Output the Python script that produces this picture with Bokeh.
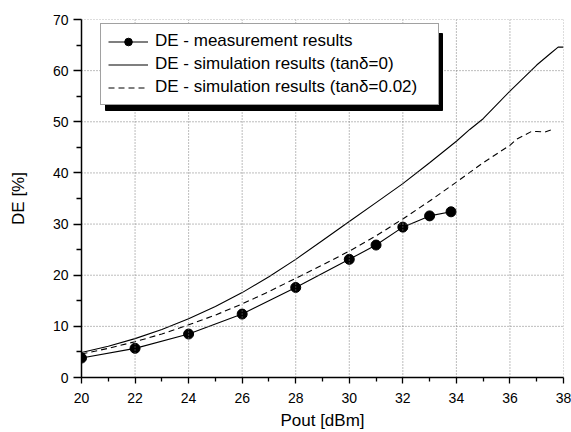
import math
from bokeh.plotting import figure
from bokeh.models import Range1d, FixedTicker, Legend, LegendItem
from bokeh.embed import file_html
from bokeh.resources import INLINE

# ---- data ----
meas_x = [20, 22, 24, 26, 28, 30, 31, 32, 33, 33.8]
meas_y = [3.8, 5.7, 8.5, 12.4, 17.6, 23.1, 25.9, 29.4, 31.6, 32.4]

sim0_x = [20, 21, 22, 23, 24, 25, 26, 27, 28, 29, 30, 31, 32, 33, 34, 34.5,
          35, 36, 36.75, 37, 37.5, 37.8, 38]
sim0_y = [4.9, 6.1, 7.6, 9.4, 11.5, 13.9, 16.6, 19.7, 23.1, 26.8, 30.5, 34.2,
          37.9, 42.0, 46.2, 48.5, 50.6, 56.0, 59.8, 61.1, 63.3, 64.6, 64.6]

sim2_x = [20, 21, 22, 23, 24, 25, 26, 27, 28, 29, 30, 31, 32, 33, 34, 35,
          36, 36.25, 36.8, 37.0, 37.3, 37.6]
sim2_y = [4.6, 5.7, 7.0, 8.5, 10.3, 12.2, 14.4, 16.8, 19.4, 22.0, 24.7, 27.7,
          31.0, 34.5, 38.2, 42.0, 45.4, 46.6, 48.1, 48.1, 48.0, 48.5]

x_ticks = [20, 22, 24, 26, 28, 30, 32, 34, 36, 38]
x_minor = [21, 23, 25, 27, 29, 31, 33, 35, 37]
y_ticks = [0, 10, 20, 30, 40, 50, 60, 70]
y_minor = [5, 15, 25, 35, 45, 55, 65]

FONT = "Liberation Sans"

W, H = 571, 432
BL, BR, BT, BB = 81, 8, 19, 55
FW, FH = W - BL - BR, H - BT - BB
X0, X1 = x_ticks[0], x_ticks[-1]
Y0, Y1 = y_ticks[0], y_ticks[-1]

p = figure(width=W, height=H, output_backend="svg", toolbar_location=None,
           x_range=Range1d(X0, X1), y_range=Range1d(Y0, Y1),
           min_border_left=BL, min_border_right=BR,
           min_border_top=BT, min_border_bottom=BB)
p.outline_line_alpha = 0

# axes
xt = FixedTicker(ticks=x_ticks, minor_ticks=x_minor)
yt = FixedTicker(ticks=y_ticks, minor_ticks=y_minor)
p.xaxis.ticker = xt
p.yaxis.ticker = yt
p.xgrid.visible = False
p.ygrid.visible = False

for ax in (p.xaxis[0], p.yaxis[0]):
    ax.axis_line_width = 1.5
    ax.axis_line_color = "black"
    ax.major_tick_line_color = "black"
    ax.minor_tick_line_color = "black"
    ax.major_tick_line_width = 1.3
    ax.minor_tick_line_width = 1.3
    ax.major_tick_in = 0
    ax.minor_tick_in = 0
    ax.major_label_text_font = FONT
    ax.major_label_text_font_size = "14px"
    ax.major_label_text_color = "black"
    ax.axis_label_text_font = FONT
    ax.axis_label_text_font_size = "17px"
    ax.axis_label_text_font_style = "normal"
    ax.axis_label_text_color = "black"
p.xaxis.major_tick_out = 6
p.xaxis.minor_tick_out = 4
p.yaxis.major_tick_out = 8
p.yaxis.minor_tick_out = 5
p.xaxis.major_label_standoff = 9
p.yaxis.major_label_standoff = 5
p.xaxis.axis_label = "Pout [dBm]"
p.yaxis.axis_label = "DE [%]"
p.xaxis.axis_label_standoff = 5
p.yaxis.axis_label_standoff = 22

# data
r_sim0 = p.line(sim0_x, sim0_y, line_color="black", line_width=1.1)
r_sim2 = p.line(sim2_x, sim2_y, line_color="black", line_width=1.1,
                line_dash="6 4")
r_meas_l = p.line(meas_x, meas_y, line_color="black", line_width=1.1)
r_meas_s = p.scatter(meas_x, meas_y, marker="circle", size=10,
                     fill_color="black", line_color="black")

# dotted grid at the major ticks, as NaN-separated line glyphs
gx_x, gx_y = [], []
for t in x_ticks:
    gx_x += [t, t, math.nan]
    gx_y += [Y0, Y1, math.nan]
gy_x, gy_y = [], []
for t in y_ticks:
    gy_x += [X0, X1, math.nan]
    gy_y += [t, t, math.nan]
p.line(gx_x, gx_y, line_color="#7a7a7a", line_width=1, line_dash="1 2")
p.line(gy_x, gy_y, line_color="#7a7a7a", line_width=1, line_dash="1 2")

# legend geometry (pixels)
pad, gw, gh, lstand, lw, sp = 7, 40, 19, 7, 276, 3
leg_w = 2 * pad + gw + lstand + lw
leg_h = 2 * pad + 3 * gh + 2 * sp
leg_left, leg_top = 19, 9   # offsets from frame's top-left
sx = FW / (X1 - X0)
sy = FH / (Y1 - Y0)
shadow_off = 5
# legend drop shadow (decoration)
p.quad(left=[X0 + (leg_left + shadow_off) / sx],
       right=[X0 + (leg_left + leg_w + shadow_off) / sx],
       top=[Y1 - (leg_top + shadow_off) / sy],
       bottom=[Y1 - (leg_top + leg_h + shadow_off) / sy],
       fill_color="black", line_color="black")

legend = Legend(items=[
    LegendItem(label="DE - measurement results", renderers=[r_meas_l, r_meas_s]),
    LegendItem(label="DE - simulation results (tan\u03b4=0)", renderers=[r_sim0]),
    LegendItem(label="DE - simulation results (tan\u03b4=0.02)", renderers=[r_sim2]),
], location=(leg_left, FH - leg_top - leg_h))
legend.padding = pad
legend.margin = 0
legend.glyph_width = gw
legend.glyph_height = gh
legend.label_height = gh
legend.label_width = lw
legend.label_standoff = lstand
legend.spacing = sp
legend.label_text_font = FONT
legend.label_text_font_size = "17px"
legend.label_text_color = "black"
legend.border_line_color = "#444444"
legend.border_line_width = 1
legend.background_fill_color = "white"
legend.background_fill_alpha = 1.0
p.add_layout(legend, "center")

open("out.html", "w").write(file_html(p, INLINE))
